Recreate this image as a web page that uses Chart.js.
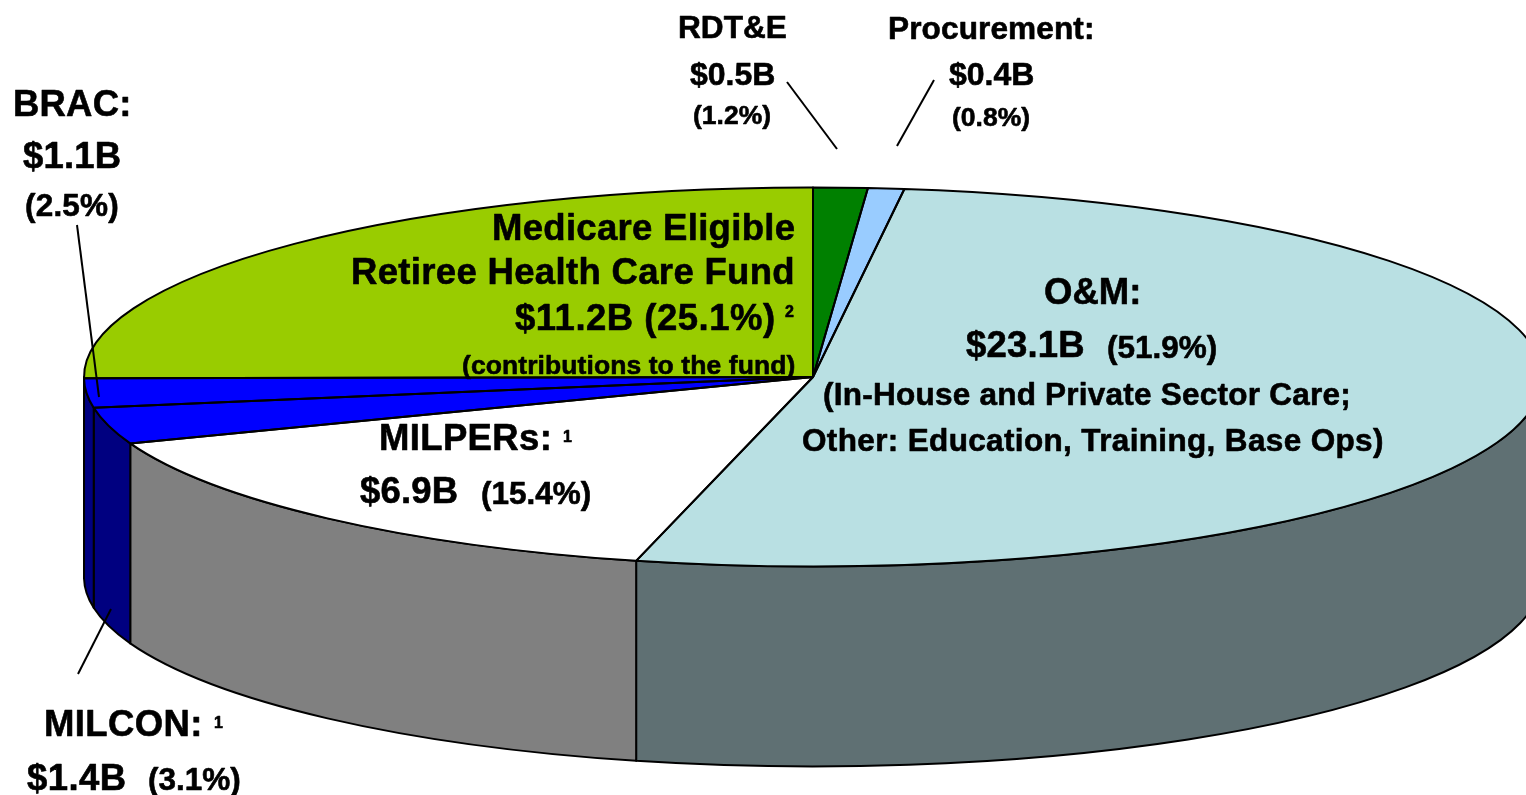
<!DOCTYPE html>
<html>
<head>
<meta charset="utf-8">
<style>html,body{margin:0;padding:0;background:#fff;overflow:hidden}canvas{display:block}</style>
<script src="https://cdn.jsdelivr.net/npm/chart.js@4"></script>
</head>
<body>
<canvas id="c" width="1526" height="795"></canvas>
<script>
const categories = ["O&M","MILPERs","MILCON","BRAC","Medicare Eligible Retiree Health Care Fund","RDT&E","Procurement"];
const sharePercent = [51.9,15.4,3.1,2.5,25.1,1.2,0.8];
const topColors = ["#B9E0E3","#FFFFFF","#0000FF","#0000FF","#99CC00","#008000","#99CCFF"];
const wallColors = ["#5F7073","#808080","#000080","#000080","#5C7A00","#004D00","#5C7A99"];

const labelRuns = [
 ["RDT&E",678,38,31.6,0],["$0.5B",690,85,32,0],["(1.2%)",693,124,26.5,0],
 ["Procurement:",888,39,31.6,0.1],["$0.4B",949,85,32,0],["(0.8%)",952,126,26.5,0],
 ["BRAC:",13,116,36.5,0.2],["$1.1B",23,168,36.5,0.2],["(2.5%)",25,216,31.5,0.2],
 ["Medicare Eligible",492,240,36.5,0.3],["Retiree Health Care Fund",351,284,36.5,0.33],
 ["$11.2B (25.1%)",515,330,36.5,0.5],["2",785,317,16,0],["(contributions to the fund)",462,374,26.5,0.08],
 ["O&M:",1044,304,36.5,0],["$23.1B",966,357,36.5,0.2],["(51.9%)",1107,358,31.5,0],
 ["(In-House and Private Sector Care;",823,405,31.5,0.24],["Other: Education, Training, Base Ops)",802,451,31.5,0.35],
 ["MILPERs:",379,450,36.5,0.35],["1",563,442,16,0],["$6.9B",360,503,36.5,0.2],["(15.4%)",481,504,31.5,0],
 ["MILCON:",44,736,36.5,0.4],["1",214,728,16,0],["$1.4B",27,790,36.5,0.4],["(3.1%)",148,790,31.5,0]
];
const leaderLines = [[787,82,837,149],[934,80,897,146],[77,225,99,397],[78,674,111,609]];

const PIE = {cx:813, cy:377, rx:729, ry:189.5, depth:200, line:2};

const pie3d = {
  id:'pie3d',
  beforeDatasetsDraw(chart){
    const ctx = chart.ctx, arcs = chart.getDatasetMeta(0).data;
    const {cx,cy,rx,ry,depth,line} = PIE;
    ctx.save();
    ctx.lineWidth = line; ctx.strokeStyle = '#000'; ctx.lineJoin = 'round';
    arcs.forEach((arc,i)=>{
      const a0 = Math.max(arc.startAngle,0), a1 = Math.min(arc.endAngle,Math.PI);
      if(a1 <= a0) return;
      ctx.beginPath();
      ctx.ellipse(cx,cy,rx,ry,0,a0,a1);
      ctx.ellipse(cx,cy+depth,rx,ry,0,a1,a0,true);
      ctx.closePath();
      ctx.fillStyle = wallColors[i];
      ctx.fill(); ctx.stroke();
    });
    ctx.restore();
    const a = arcs[0], k = a.outerRadius;
    ctx.save();
    ctx.translate(cx,cy);
    ctx.scale(rx/k,ry/k);
    ctx.translate(-a.x,-a.y);
  },
  afterDatasetsDraw(chart){
    const ctx = chart.ctx, arcs = chart.getDatasetMeta(0).data;
    const {cx,cy,rx,ry,line} = PIE;
    ctx.restore();
    ctx.save();
    ctx.lineWidth = line; ctx.strokeStyle = '#000'; ctx.lineJoin = 'round';
    arcs.forEach(arc=>{
      ctx.beginPath();
      ctx.moveTo(cx,cy);
      ctx.ellipse(cx,cy,rx,ry,0,arc.startAngle,arc.endAngle);
      ctx.closePath();
      ctx.stroke();
    });
    ctx.restore();
  },
  afterDraw(chart){
    const ctx = chart.ctx;
    ctx.save();
    ctx.strokeStyle = '#000'; ctx.lineWidth = 2;
    leaderLines.forEach(l=>{
      ctx.beginPath(); ctx.moveTo(l[0],l[1]); ctx.lineTo(l[2],l[3]); ctx.stroke();
    });
    ctx.fillStyle = '#000'; ctx.textAlign = 'left'; ctx.textBaseline = 'alphabetic';
    ctx.lineWidth = 0.6; ctx.lineJoin = 'round';
    labelRuns.forEach(r=>{
      ctx.font = 'bold '+r[3]+'px "Liberation Sans", Arial, sans-serif';
      ctx.letterSpacing = r[4]+'px';
      ctx.fillText(r[0],r[1],r[2]);
      ctx.strokeText(r[0],r[1],r[2]);
    });
    ctx.restore();
  }
};

new Chart(document.getElementById('c'),{
  type:'pie',
  data:{labels:categories,datasets:[{data:sharePercent,backgroundColor:topColors,borderWidth:0,clip:false}]},
  options:{
    responsive:false, animation:false, events:[],
    rotation:7.2,
    layout:{padding:0},
    plugins:{legend:{display:false},tooltip:{enabled:false},title:{display:false}}
  },
  plugins:[pie3d]
});
</script>
</body>
</html>
